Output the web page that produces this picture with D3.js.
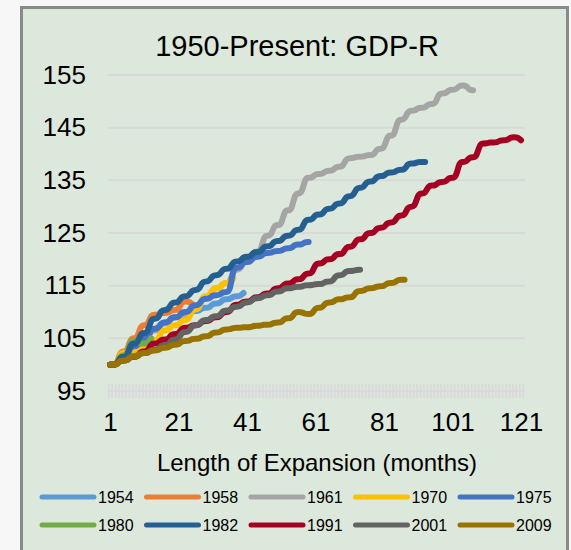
<!DOCTYPE html>
<html>
<head>
<meta charset="utf-8">
<script src="https://cdn.jsdelivr.net/npm/d3@7"></script>
<style>
	body {
		margin: 0;
		background: #f7f7f7;
	}
	svg {
		display: block;
		font-family: 'Liberation Sans', Arial, sans-serif;
	}
</style>
</head>
<body>
<div id="chart"></div>
<script>
// quarterly index values (start of expansion = 100), each quarter spans 3 months
const years = ['1954', '1958', '1961', '1970', '1975', '1980', '1982', '1991', '2001', '2009'];
const colors = ['#5b9bd5', '#ed7d31', '#a5a5a5', '#ffc000', '#4472c4', '#70ad47', '#255e91', '#a50021', '#636363', '#997300'];
const lengths = [40, 25, 107, 37, 59, 13, 93, 121, 74, 87];

const q1954 = [100, 101.2, 102.8, 105, 106.8, 108, 109, 109.4, 110.2, 110.8, 111.6, 112.4, 113, 113.6];
const q1958 = [100, 102.5, 105, 107.5, 109.5, 109.8, 110.4, 112, 111.5];
const q1961 = [100, 101.5, 103, 104.8, 106.5, 107.8, 109, 109.5, 111, 112.5, 114.5, 115.5,
	118, 119.8, 121.5, 124.5, 126.5, 129.3, 132.5, 135.5, 136.2, 136.8, 137.6, 139.2,
	139.5, 139.8, 141, 143.5, 146.5, 148.2, 148.8, 149.5, 151.5, 152.2, 153, 152.1];
const q1970 = [100, 102.2, 102.8, 103.4, 104.6, 106.5, 107.5, 108.5, 110.5, 113, 114.5, 115.5, 116.4];
const q1975 = [100, 101.5, 103.5, 105, 106.8, 108, 109, 110, 111.3, 112.5, 113.2, 113.8,
	118.4, 119.5, 120.5, 121.2, 121.6, 122.1, 122.8, 123.3];
const q1980 = [100, 101.8, 104.5, 104, 105];
const q1982 = [100, 101.5, 104, 106, 108.7, 110.4, 111.8, 113, 114.2, 115.8, 117, 118.2,
	119.6, 120.5, 121.4, 122.5, 123.5, 124.5, 125.6, 127.5, 128.5, 129.6, 130.6, 132,
	133.6, 134.8, 135.8, 136.5, 137, 138.2, 138.5];
const q1991 = [100, 100.8, 101.5, 102.5, 104, 104.8, 105.8, 107, 107.5, 108.3, 109, 110,
	111.4, 112, 112.8, 113.5, 114.5, 115.4, 116.2, 117.3, 119.2, 120, 121, 122.4,
	123.8, 125, 126, 127, 128.3, 130, 132.5, 134, 134.7, 135.5, 138.5, 139.4,
	142, 142.2, 142.6, 143.2, 142.6];
const q2001 = [100, 100.8, 101.5, 102.2, 102.8, 103.7, 104.8, 106.2, 107.5, 108.5, 109.2, 110.3,
	111, 111.8, 112.6, 113.2, 113.9, 114.5, 114.8, 115.1, 115.3, 115.8, 117, 117.8, 118];
const q2009 = [100, 100.8, 101.6, 102.2, 102.7, 103.2, 103.8, 104.5, 104.9, 105.4, 106.1, 106.7,
	107, 107.1, 107.4, 107.6, 108, 108.8, 110, 109.6, 110.8, 111.8, 112.4, 112.8,
	114, 114.5, 114.9, 115.5, 116.1];

const quarterly = [q1954, q1958, q1961, q1970, q1975, q1980, q1982, q1991, q2001, q2009];

const yTicks = [95, 105, 115, 125, 135, 145, 155];
const xTicks = [1, 21, 41, 61, 81, 101, 121];

const width = 571;
const height = 550;

const svg = d3
	.select('#chart')
	.append('svg')
	.attr('width', width)
	.attr('height', height);

// chart area frame
svg.append('rect')
	.attr('x', 21.5)
	.attr('y', 7.5)
	.attr('width', 546)
	.attr('height', 560)
	.attr('fill', '#dde8dc')
	.attr('stroke', '#8a8a8a')
	.attr('stroke-width', 3);

const x = d3.scaleLinear().domain([1, 121]).range([110, 521]);
const y = d3.scaleLinear().domain([95, 155]).range([391, 75]);

svg.append('text')
	.attr('x', 297)
	.attr('y', 56)
	.attr('text-anchor', 'middle')
	.attr('font-size', 29)
	.attr('fill', '#000')
	.text('1950-Present: GDP-R');

// horizontal gridlines
svg.append('g')
	.selectAll('line')
	.data(yTicks)
	.enter()
	.append('line')
	.attr('x1', 108)
	.attr('x2', 525)
	.attr('y1', d => y(d))
	.attr('y2', d => y(d))
	.attr('stroke', '#d9d9d9')
	.attr('stroke-width', 2);

// month tick marks crossing the bottom axis
const monthAxis = svg.append('g')
	.attr('transform', `translate(0,${y(95)})`)
	.call(d3.axisBottom(x).tickValues(d3.range(0.5, 122, 1)).tickFormat('').tickSizeOuter(0));
monthAxis.select('.domain').remove();
monthAxis.selectAll('.tick line')
	.attr('y1', -7)
	.attr('y2', 7)
	.attr('stroke', '#d9d9d9')
	.attr('stroke-width', 1.8);

const yAxis = svg.append('g')
	.attr('transform', 'translate(86,0)')
	.call(d3.axisLeft(y).tickValues(yTicks).tickSize(0).tickPadding(0));
yAxis.select('.domain').remove();
yAxis.selectAll('text')
	.attr('font-size', 26)
	.attr('font-family', 'Liberation Sans, Arial, sans-serif')
	.attr('fill', '#000');

const xAxis = svg.append('g')
	.attr('transform', 'translate(0,413)')
	.call(d3.axisBottom(x).tickValues(xTicks).tickSize(0).tickPadding(0));
xAxis.select('.domain').remove();
xAxis.selectAll('text')
	.attr('font-size', 26)
	.attr('font-family', 'Liberation Sans, Arial, sans-serif')
	.attr('fill', '#000');

svg.append('text')
	.attr('x', 317)
	.attr('y', 471)
	.attr('text-anchor', 'middle')
	.attr('font-size', 24)
	.attr('fill', '#000')
	.text('Length of Expansion (months)');

// expand quarterly values to monthly points
const series = years.map((yr, i) => {
	const q = quarterly[i];
	const pts = d3.range(1, lengths[i] + 1).map(m => ({
		m: m,
		v: q[Math.min(q.length - 1, Math.floor((m - 1) / 3))],
	}));
	return {year: yr, color: colors[i], values: pts};
});

const line = d3
	.line()
	.x(d => x(d.m))
	.y(d => y(d.v))
	.curve(d3.curveBasis);

svg.append('g')
	.selectAll('path')
	.data(series)
	.enter()
	.append('path')
	.attr('d', d => line(d.values))
	.attr('fill', 'none')
	.attr('stroke', d => d.color)
	.attr('stroke-width', 6)
	.attr('stroke-linecap', 'round')
	.attr('stroke-linejoin', 'round');

// legend
const legend = svg.append('g')
	.selectAll('g')
	.data(series)
	.enter()
	.append('g')
	.attr('transform', (d, i) => `translate(${40 + (i % 5) * 104.5},${i < 5 ? 497 : 525})`);

legend.append('line')
	.attr('x1', 2)
	.attr('x2', 54)
	.attr('stroke', d => d.color)
	.attr('stroke-width', 5)
	.attr('stroke-linecap', 'round');

legend.append('text')
	.attr('x', 58)
	.attr('y', 6)
	.attr('font-size', 16)
	.attr('fill', '#000')
	.text(d => d.year);
</script>
</body>
</html>
